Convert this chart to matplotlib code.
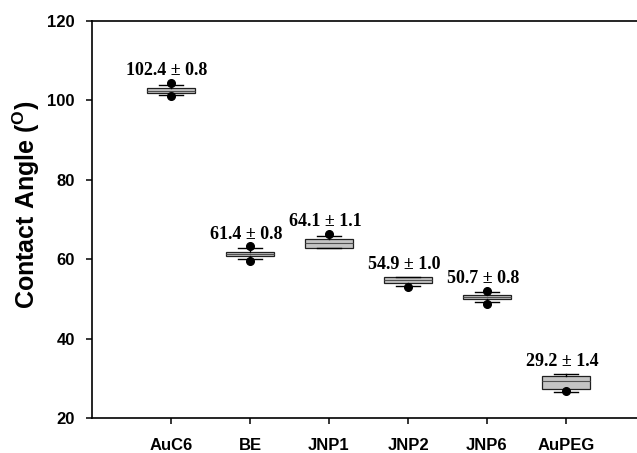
import matplotlib.pyplot as plt

# Veriler (okunan degerler)
names = ['AuC6', 'BE', 'JNP1', 'JNP2', 'JNP6', 'AuPEG']
q1 = [101.8, 60.9, 62.7, 53.9, 49.9, 27.4]
med = [102.4, 61.4, 64.0, 54.8, 50.5, 29.3]
q3 = [103.1, 61.9, 65.0, 55.6, 51.0, 30.5]
whislo = [101.3, 60.0, 62.7, 53.2, 49.1, 26.6]
whishi = [104.0, 62.9, 65.9, 55.6, 51.8, 31.1]
fliers = [[104.3, 101.0], [63.2, 59.6], [66.3], [52.9], [52.1, 48.7], [26.9]]
labels = ['102.4 ± 0.8', '61.4 ± 0.8', '64.1 ± 1.1', '54.9 ± 1.0', '50.7 ± 0.8', '29.2 ± 1.4']

stats = []
for i in range(len(names)):
    stats.append({'med': med[i], 'q1': q1[i], 'q3': q3[i],
                  'whislo': whislo[i], 'whishi': whishi[i],
                  'fliers': fliers[i], 'label': names[i]})

fig = plt.figure(figsize=(6.37, 4.53), dpi=100)
ax = fig.add_axes([92 / 637, 1 - 418 / 453, 553 / 637, 397 / 453])

pos = list(range(1, len(names) + 1))
ax.bxp(stats, positions=pos, widths=0.62, patch_artist=True,
       boxprops=dict(facecolor='#c4c4c4', edgecolor='#202020', linewidth=0.9),
       medianprops=dict(color='#505050', linewidth=0.8),
       whiskerprops=dict(color='black', linewidth=1.0),
       capprops=dict(color='black', linewidth=1.0),
       capwidths=0.3,
       flierprops=dict(marker='o', markerfacecolor='black', markeredgecolor='black', markersize=5.5))

# Ust etiketler
for i in range(len(names)):
    top = max([whishi[i], q3[i]] + fliers[i])
    ax.text(pos[i] - 0.05, top + 1.0, labels[i], ha='center', va='bottom',
            family='Liberation Serif', fontweight='bold', fontsize=13)

ax.set_xlim(0, 7)
ax.set_ylim(20, 120)
ax.set_yticks([20, 40, 60, 80, 100, 120])
ax.set_xticks(pos)
ax.set_xticklabels(names)
for t in ax.get_xticklabels() + ax.get_yticklabels():
    t.set_family('Liberation Sans')
    t.set_fontweight('bold')
    t.set_fontsize(12)
ax.tick_params(direction='out', length=4.5, width=1.1)
ax.tick_params(axis='x', pad=10)
ax.tick_params(axis='y', pad=8)
for s in ax.spines.values():
    s.set_linewidth(1.2)

ax.set_ylabel('Contact Angle ($\\mathregular{^O}$)', family='Liberation Sans',
              fontweight='bold', fontsize=18)
ax.yaxis.set_label_coords(-0.09, 0.537)

plt.savefig('out.png', dpi=100)
